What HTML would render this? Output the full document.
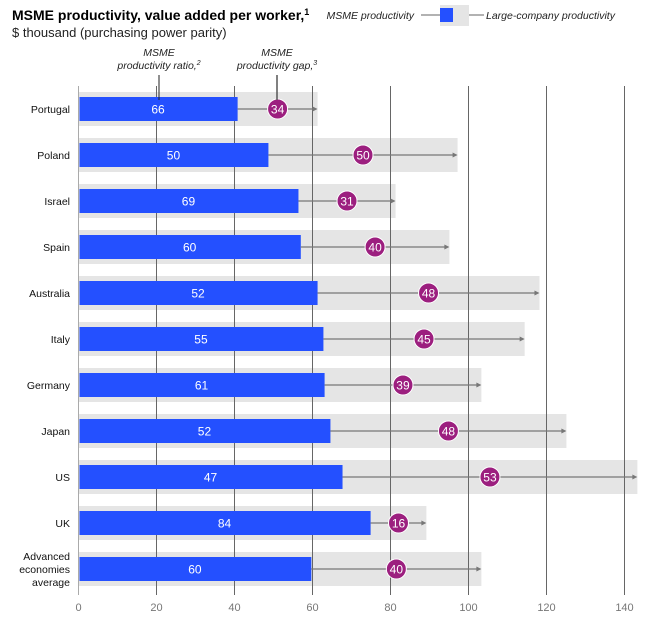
<!DOCTYPE html>
<html><head><meta charset="utf-8">
<style>
body{margin:0;background:#fff;font-family:"Liberation Sans",Arial,sans-serif;}
svg text{font-family:"Liberation Sans",Arial,sans-serif;}
</style></head>
<body>
<svg id="chart" width="670" height="618" viewBox="0 0 670 618" xmlns="http://www.w3.org/2000/svg">
<text x="12" y="20" font-size="14" font-weight="bold" fill="#000">MSME productivity, value added per worker,<tspan font-size="9" dy="-5">1</tspan></text>
<text x="12" y="37" font-size="13" fill="#222">$ thousand (purchasing power parity)</text>
<g>
<text x="414" y="19" font-size="10.5" font-style="italic" text-anchor="end" fill="#222">MSME productivity</text>
<line x1="421" y1="15" x2="440" y2="15" stroke="#666"/>
<rect x="440" y="5" width="29" height="21" fill="#e5e5e5"/>
<rect x="440" y="8" width="13" height="14" fill="#2450ff"/>
<line x1="469" y1="15" x2="484" y2="15" stroke="#666"/>
<text x="486" y="19" font-size="10.5" font-style="italic" fill="#222">Large-company productivity</text>
</g>
<g font-size="10.5" font-style="italic" fill="#222" text-anchor="middle">
<text x="159" y="56">MSME</text>
<text x="159" y="69">productivity ratio,<tspan font-size="7" dy="-4">2</tspan></text>
<text x="277" y="56">MSME</text>
<text x="277" y="69">productivity gap,<tspan font-size="7" dy="-4">3</tspan></text>
</g>
<g id="grays"></g><g id="grid"></g><g id="bars"></g><g id="ticks"></g>
<line x1="159" y1="75" x2="159" y2="100" stroke="#222"/>
<line x1="277" y1="75" x2="277" y2="100" stroke="#555" stroke-width="1.5"/>
</svg>
<script>
const countries=["Portugal","Poland","Israel","Spain","Australia","Italy","Germany","Japan","US","UK","Advanced economies average"];
const msme=[40.8,48.7,56.4,57,61.3,62.8,63.1,64.6,67.7,74.9,59.7];
const large=[61.3,97.2,81.3,95.1,118.2,114.4,103.3,125.1,143.3,89.2,103.3];
const ratios=[66,50,69,60,52,55,61,52,47,84,60];
const gaps=[34,50,31,40,48,45,39,48,53,16,40];
const ticks=[0,20,40,60,80,100,120,140];
const NS="http://www.w3.org/2000/svg";
const x=v=>78.5+v*3.9;
const y=i=>109+i*46;
function mk(tag,attrs,parent,txt){const e=document.createElementNS(NS,tag);for(const k in attrs)e.setAttribute(k,attrs[k]);if(txt!==undefined)e.textContent=txt;document.getElementById(parent).appendChild(e);return e;}
ticks.forEach(t=>{
 const l=mk('line',{x1:x(t),x2:x(t),y1:86,y2:595,stroke:t===0?'#aaa':'#666','stroke-width':1},'grid');
 
 
 const tx=mk('text',{x:x(t),y:611,'font-size':11,fill:'#777','text-anchor':'middle'},'ticks',String(t));
 
 
});
countries.forEach((c,i)=>{
 const cy=y(i);
 const g=mk('rect',{x:x(0),y:cy-17,width:x(large[i])-x(0),height:34,fill:'#e5e5e5'},'grays');
 
 
 const b=mk('rect',{x:x(0)+1,y:cy-12,width:x(msme[i])-x(0)-1,height:24,fill:'#2450ff'},'bars');
 
 
 const ln=mk('line',{x1:x(msme[i]),x2:x(large[i])-3,y1:cy,y2:cy,stroke:'#777','stroke-width':1.2},'bars');
 
 
 const ar=mk('path',{d:`M${x(large[i])-5},${cy-2.5} L${x(large[i])},${cy} L${x(large[i])-5},${cy+2.5}Z`,fill:'#777'},'bars');
 
 
 const mx=(x(msme[i])+x(large[i]))/2;
 const ci=mk('circle',{cx:mx,cy:cy,r:10,fill:'#9c1f7f',stroke:'#fff','stroke-width':1},'bars');
 
 
 const gt=mk('text',{x:mx,y:cy+4.5,'font-size':12,fill:'#fff','text-anchor':'middle'},'bars',String(gaps[i]));
 
 
 const rt=mk('text',{x:(x(0)+x(msme[i]))/2,y:cy+4.5,'font-size':12,fill:'#fff','text-anchor':'middle'},'bars',String(ratios[i]));
 
 
 const parts=c==="Advanced economies average"?["Advanced","economies","average"]:[c];
 parts.forEach((p,k)=>{
  const lt=mk('text',{x:70,y:cy+4+(k-(parts.length-1)/2)*13,'font-size':10.5,fill:'#111','text-anchor':'end'},'ticks',p);
  
  
 });
});
</script>
</body></html>
